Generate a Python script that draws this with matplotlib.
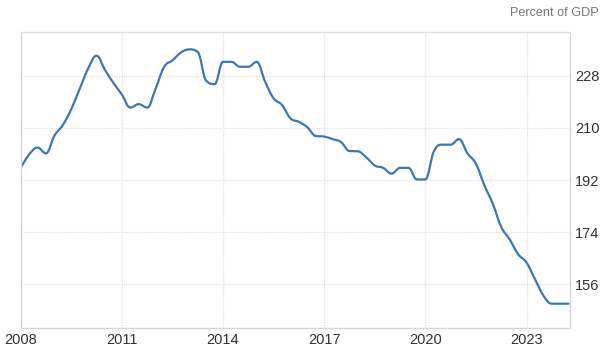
import numpy as np
import matplotlib
matplotlib.use("Agg")
import matplotlib.pyplot as plt
from matplotlib.path import Path
from matplotlib.patches import PathPatch

plt.rcParams['font.family'] = ['Liberation Sans', 'DejaVu Sans']

# Quarterly observations, 2008Q1 .. 2024Q2 (percent of GDP)
start_year = 2008.0
values = [
    196.2, 200.8, 203.2, 201.2,   # 2008
    207.3, 211.0, 216.5, 223.5,   # 2009
    230.5, 234.9, 230.0, 225.5,   # 2010
    221.5, 217.0, 218.2, 217.0,   # 2011
    223.5, 231.0, 233.3, 236.0,   # 2012
    237.1, 236.2, 226.3, 225.1,   # 2013
    232.8, 232.8, 231.1, 231.1,   # 2014
    232.8, 225.9, 220.2, 217.9,   # 2015
    213.3, 212.1, 210.2, 207.2,   # 2016
    207.0, 206.1, 205.1, 202.0,   # 2017
    201.9, 199.8, 197.0, 196.2,   # 2018
    194.2, 196.2, 196.2, 192.2,   # 2019
    192.2, 201.8, 204.2, 204.2,   # 2020
    206.1, 201.2, 197.6, 190.2,   # 2021
    183.8, 175.8, 171.5, 166.4,   # 2022
    163.5, 157.8, 152.1, 149.3,   # 2023
    149.3, 149.3,                 # 2024
]
x_ticks = [2008, 2011, 2014, 2017, 2020, 2023]
y_ticks = [156, 174, 192, 210, 228]
unit_label = "Percent of GDP"

t = start_year + 0.25 * np.arange(len(values))
v = np.array(values, dtype=float)


def spline_path(xs, ys, smoothing=1.5):
    denom = smoothing + 1.0
    n = len(xs)
    lcx = xs.copy(); lcy = ys.copy(); rcx = xs.copy(); rcy = ys.copy()
    for i in range(1, n - 1):
        px, py = xs[i], ys[i]
        lx, ly = xs[i - 1], ys[i - 1]
        nx, ny = xs[i + 1], ys[i + 1]
        l_x = (smoothing * px + lx) / denom
        l_y = (smoothing * py + ly) / denom
        r_x = (smoothing * px + nx) / denom
        r_y = (smoothing * py + ny) / denom
        if r_x != l_x:
            corr = (r_y - l_y) * (r_x - px) / (r_x - l_x) + py - r_y
            l_y += corr; r_y += corr
        if l_y > ly and l_y > py:
            l_y = max(ly, py); r_y = 2 * py - l_y
        elif l_y < ly and l_y < py:
            l_y = min(ly, py); r_y = 2 * py - l_y
        if r_y > ny and r_y > py:
            r_y = max(ny, py); l_y = 2 * py - r_y
        elif r_y < ny and r_y < py:
            r_y = min(ny, py); l_y = 2 * py - r_y
        lcx[i], lcy[i], rcx[i], rcy[i] = l_x, l_y, r_x, r_y
    verts = [(xs[0], ys[0])]
    codes = [Path.MOVETO]
    for i in range(n - 1):
        verts += [(rcx[i], rcy[i]), (lcx[i + 1], lcy[i + 1]), (xs[i + 1], ys[i + 1])]
        codes += [Path.CURVE4] * 3
    return Path(verts, codes)


fig = plt.figure(figsize=(6.06, 3.51), dpi=100)
ax = fig.add_axes([20.7 / 606, (351 - 328.3) / 351, (570 - 20.7) / 606, (328.3 - 32.3) / 351])

ax.set_xlim(2008, 2024.29)
ax.set_ylim(140.8, 243.0)

grid_c = '#dedede'
ax.set_xticks(x_ticks)
ax.set_yticks(y_ticks)
ax.grid(True, color=grid_c, linestyle=(0, (1, 1)), linewidth=0.9)
ax.set_axisbelow(True)

ax.yaxis.tick_right()
ax.tick_params(axis='both', length=0, labelsize=10.5, labelcolor='#333333')
ax.tick_params(axis='x', pad=3.4)
ax.tick_params(axis='y', pad=3.8)

for s in ['left', 'bottom', 'right']:
    ax.spines[s].set_color('#d6d6d6')
    ax.spines[s].set_linewidth(1.0)
ax.spines['top'].set_color(grid_c)
ax.spines['top'].set_linestyle((0, (1, 1)))
ax.spines['top'].set_linewidth(0.9)

patch = PathPatch(spline_path(t, v), facecolor='none', edgecolor='#3d76b6',
                  linewidth=1.6, capstyle='round', joinstyle='round')
ax.add_patch(patch)

fig.text(598.5 / 606, 1 - 12.5 / 351, unit_label, ha='right', va='center',
         fontsize=9.1, color='#777777')

fig.savefig('out.png', dpi=100)
